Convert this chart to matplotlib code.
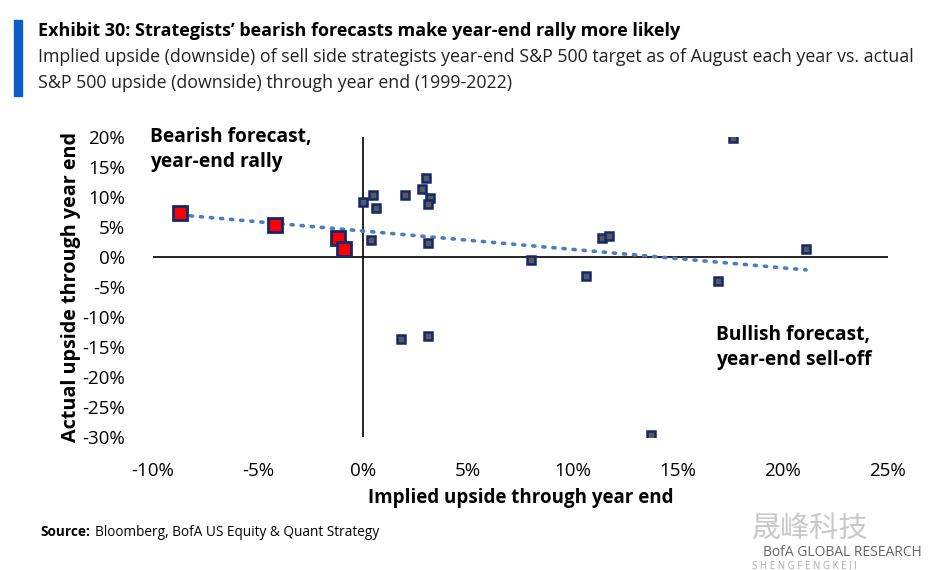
import numpy as np
import matplotlib
matplotlib.use('Agg')
import matplotlib.pyplot as plt
from matplotlib.patches import Rectangle

plt.rcParams['font.family'] = ['Open Sans', 'DejaVu Sans']

# implied upside (%) vs actual upside through year end (%)
bear_x = [-8.7, -4.2, -1.2, -0.9]
bear_y = [7.3, 5.3, 3.2, 1.3]
other_x = [0.0, 0.5, 0.6, 0.4, 2.0, 2.8, 3.0, 3.2, 3.1, 3.1, 8.0,
           17.6, 1.8, 3.1, 11.4, 11.7, 21.1, 10.6, 16.9, 13.7]
other_y = [9.2, 10.4, 8.2, 2.9, 10.4, 11.3, 13.2, 9.8, 8.8, 2.3, -0.5,
           19.8, -13.7, -13.1, 3.2, 3.5, 1.3, -3.1, -4.0, -29.6]

x_ticks = [-10, -5, 0, 5, 10, 15, 20, 25]
y_ticks = [20, 15, 10, 5, 0, -5, -10, -15, -20, -25, -30]

fig = plt.figure(figsize=(9.44, 5.7), dpi=100)
ax = fig.add_axes([0.162, 0.2333, 0.7786, 0.5263])
ax.set_xlim(-10, 25)
ax.set_ylim(-30, 20)
for s in ax.spines.values():
    s.set_visible(False)
ax.axhline(0, color='black', lw=1.2, zorder=1)
ax.axvline(0, color='black', lw=1.2, zorder=1)

ax.set_xticks(x_ticks)
ax.set_xticklabels([f'{v}%' for v in x_ticks])
ax.set_yticks(y_ticks)
ax.set_yticklabels([f'{v}%' for v in y_ticks])
ax.tick_params(length=0, labelsize=13.5)
ax.tick_params(axis='x', pad=18)
ax.tick_params(axis='y', pad=20)

# trend line over all points
all_x = np.array(bear_x + other_x)
all_y = np.array(bear_y + other_y)
k, b = np.polyfit(all_x, all_y, 1)
xs = np.array([all_x.min(), all_x.max()])
ax.plot(xs, k * xs + b, linestyle=(0, (0.6, 2.2)), color='#4a7ebf', lw=2.6,
        dash_capstyle='round', zorder=2)

ax.plot(other_x, other_y, 's', ms=5.5, mfc='#5a5a5a', mec='#13286b', mew=1.8, zorder=3)
ax.plot(bear_x, bear_y, 's', ms=10, mfc='#ff0000', mec='#13286b', mew=2.0, zorder=4)

ax.text(-10.15, 21.6, 'Bearish forecast,\nyear-end rally', fontsize=13.8, fontweight='bold',
        va='top', ha='left', linespacing=1.3)
ax.text(16.8, -11.4, 'Bullish forecast,\nyear-end sell-off', fontsize=13.8, fontweight='bold',
        va='top', ha='left', linespacing=1.3)

ax.set_xlabel('Implied upside through year end', fontsize=13.5, fontweight='bold', labelpad=6)
ax.set_ylabel('Actual upside through year end', fontsize=14.2, fontweight='bold', labelpad=1)

# header
fig.patches.append(Rectangle((14 / 944, 1 - 96 / 570), 8 / 944, 76 / 570,
                             transform=fig.transFigure, color='#0b5cc7'))
fig.text(38 / 944, 1 - 31 / 570, 'Exhibit 30: Strategists\u2019 bearish forecasts make year-end rally more likely',
         fontsize=13, fontweight='bold', va='center')
fig.text(38 / 944, 1 - 57 / 570, 'Implied upside (downside) of sell side strategists year-end S&P 500 target as of August each year vs. actual',
         fontsize=12.8, color='#222222', va='center')
fig.text(38 / 944, 1 - 83 / 570, 'S&P 500 upside (downside) through year end (1999-2022)',
         fontsize=12.8, color='#222222', va='center')

fig.text(40 / 944, 1 - 532 / 570, 'Source:', fontsize=9.8, fontweight='bold', va='center')
fig.text(95 / 944, 1 - 532 / 570, 'Bloomberg, BofA US Equity & Quant Strategy', fontsize=9.8, va='center')
fig.text(752 / 944, 1 - 530 / 570, '晟峰科技', fontsize=21, color='#bbbbbb', alpha=0.8,
         va='center', family=['Noto Sans CJK SC', 'DejaVu Sans'])
fig.text(922 / 944, 1 - 552 / 570, 'BofA GLOBAL RESEARCH', fontsize=10, color='#666666',
         va='center', ha='right')
fig.text(752 / 944, 1 - 565.5 / 570, 'S H E N G F E N G K E J I', fontsize=7, color='#aaaaaa',
         va='center')

fig.savefig('out.png', dpi=100)
